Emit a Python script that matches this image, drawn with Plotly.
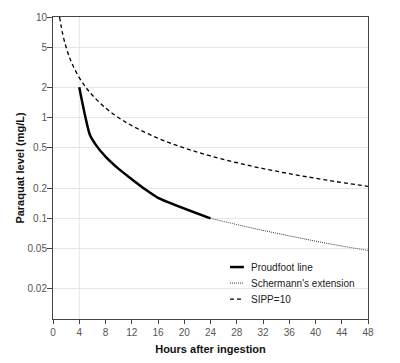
import plotly.graph_objects as go

# Proudfoot line (hours, mg/L)
proudfoot_t = [4, 5.6, 6.5, 8, 10, 12, 14, 16, 24]
proudfoot_c = [2.0, 0.68, 0.54, 0.41, 0.31, 0.245, 0.195, 0.16, 0.1]

# Schermann's extension
schermann_t = [24, 30, 36, 42, 48]
schermann_c = [0.1, 0.081, 0.067, 0.056, 0.048]

# SIPP = 10 curve
sipp_t = [1, 1.5, 2, 2.5, 3, 4, 5, 6, 8, 10, 12, 16, 20, 24, 30, 36, 42, 48]
sipp_c = [10, 6.67, 5, 4, 3.33, 2.5, 2, 1.67, 1.25, 1, 0.833, 0.625, 0.5,
          0.417, 0.333, 0.278, 0.238, 0.208]

x_ticks = list(range(0, 49, 4))
y_ticks = [0.02, 0.05, 0.1, 0.2, 0.5, 1, 2, 5, 10]
y_tick_text = ["0.02", "0.05", "0.1", "0.2", "0.5", "1", "2", "5", "10"]

legend_names = ["Proudfoot line", "Schermann's extension", "SIPP=10"]

FONT = "Liberation Sans, Arial, sans-serif"

styles = [dict(color="black", width=2.5),
          dict(color="#333333", width=1, dash="1px,1px"),
          dict(color="black", width=1.3, dash="4px,3px")]

fig = go.Figure()
fig.add_trace(go.Scatter(x=proudfoot_t, y=proudfoot_c, mode="lines",
                         name=legend_names[0], line_shape="spline",
                         line=dict(styles[0], smoothing=0.6)))
fig.add_trace(go.Scatter(x=schermann_t, y=schermann_c, mode="lines",
                         name=legend_names[1], line_shape="spline",
                         line=styles[1]))
fig.add_trace(go.Scatter(x=sipp_t, y=sipp_c, mode="lines",
                         name=legend_names[2], line_shape="spline",
                         line=styles[2]))

fig.add_shape(type="line", xref="x", yref="paper", x0=4, x1=4, y0=0, y1=1,
              line=dict(color="#e6e6e6", width=1), layer="below")

# manual legend (compact row spacing)
rows_y = [0.172, 0.119, 0.066]
for name, st, yy in zip(legend_names, styles, rows_y):
    fig.add_shape(type="line", xref="paper", yref="paper", x0=0.562, x1=0.606,
                  y0=yy, y1=yy, line=st)
    fig.add_annotation(xref="paper", yref="paper", x=0.622, y=yy, text=name,
                       showarrow=False, xanchor="left", yanchor="middle",
                       font=dict(size=10, color="#222222"))

# page body adds ~8px offset, so figure is sized to compensate
fig.update_layout(
    width=392, height=355,
    margin=dict(l=45, r=32, t=9, b=44),
    paper_bgcolor="white", plot_bgcolor="white",
    font=dict(family=FONT, size=10, color="#555555"),
    showlegend=False,
    xaxis=dict(range=[0, 48], tickvals=x_ticks, showgrid=False,
               showline=True, linecolor="#444444", linewidth=1, mirror=True,
               ticks="outside", ticklen=4, tickcolor="#444444",
               automargin=False,
               title=dict(text="<b>Hours after ingestion</b>",
                          font=dict(size=11, color="#111111"), standoff=8),
               zeroline=False),
    yaxis=dict(type="log", range=[-2, 1], tickvals=y_ticks, ticktext=y_tick_text,
               showgrid=True, gridcolor="#e6e6e6", gridwidth=1,
               showline=True, linecolor="#444444", linewidth=1, mirror=True,
               ticks="outside", ticklen=5, tickcolor="#444444",
               ticklabelstandoff=-2,
               automargin=False,
               title=dict(text="<b>Paraquat level (mg/L)</b>",
                          font=dict(size=11, color="#111111"), standoff=0),
               zeroline=False),
)

fig.write_html("out.html")
